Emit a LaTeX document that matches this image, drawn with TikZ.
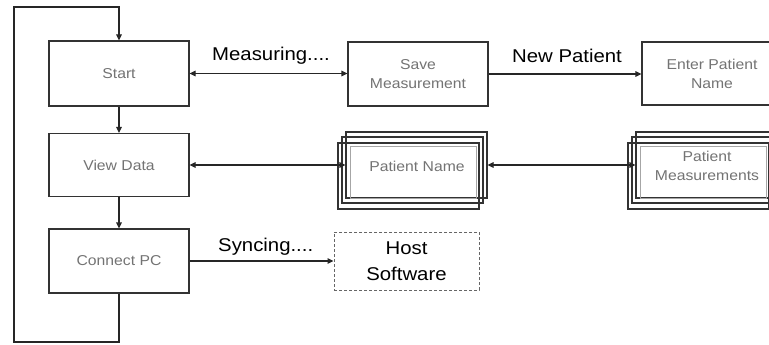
\documentclass[tikz,border=0pt]{standalone}
\usepackage{fontspec}
\setmainfont{Liberation Sans}
\newfontfamily\widesans[FakeStretch=1.1]{Liberation Sans}
\usetikzlibrary{arrows.meta}
\newcommand\boxfont{\widesans\fontsize{14.3}{19}\selectfont}
\newcommand\lblfont{\widesans\fontsize{18.5}{26}\selectfont}
\begin{document}
\begin{tikzpicture}[x=1pt,y=-1pt,
  box/.style={draw=black!80, line width=1.1pt, minimum width=140pt,
    inner sep=0pt, font=\boxfont, text=black!55, align=center},
  stackbox/.style={draw=black!80, line width=1.1pt, minimum width=141pt,
    minimum height=66pt, inner sep=0pt},
  innerbox/.style={draw=black!35, line width=1pt, minimum width=126pt,
    minimum height=52pt, inner sep=0pt},
  boxtext/.style={font=\boxfont, text=black!55, align=center, inner sep=0pt},
  hostbox/.style={draw=black!60, line width=0.9pt, dash pattern=on 3pt off 2pt,
    minimum width=145pt, minimum height=58pt, inner sep=0pt,
    font=\lblfont, align=center},
  lbl/.style={font=\lblfont, inner sep=0pt, anchor=base west},
  tip/.tip={Triangle[length=6pt,width=5.5pt]},
  arr/.style={draw=black!85, line width=1.1pt, arrows={-tip}},
  arr2/.style={draw=black!85, line width=1.1pt, arrows={tip-tip}}]

\fill[white] (0,0) rectangle (769,345);
\useasboundingbox (0,0) rectangle (769,345);
\clip (0,0) rectangle (769,345);

% main column
\node[box, minimum height=65pt] (start) at (119,73.5) {Start};
\node[box, minimum height=63pt] (view) at (119,165) {View Data};
\node[box, minimum height=64pt] (conn) at (119,261) {Connect PC};

% top row
\node[box, minimum height=64pt] (save) at (418,74) {Save\\Measurement};
\node[box, minimum height=63pt] (enter) at (712,73.5) {Enter Patient\\Name};

% stacked record: patient name
\node[stackbox] (pnback) at (416.5,165) {};
\node[stackbox] (pnmid) at (412.5,170) {};
\node[stackbox] (pnfront) at (408.5,176) {};
\node[innerbox] (pninner) at (413,172) {};
\node[boxtext] (pntext) at (417,166) {Patient Name};

% stacked record: patient measurements
\node[stackbox] (pmback) at (706.5,165) {};
\node[stackbox] (pmmid) at (702.5,170) {};
\node[stackbox] (pmfront) at (698.5,176) {};
\node[innerbox] (pminner) at (703,172) {};
\node[boxtext] (pmtext) at (707,166) {Patient\\Measurements};

% external software
\node[hostbox] (host) at (406.5,261) {Host\\Software};

% connector labels
\node[lbl] (measuring) at (212,60.5) {Measuring....};
\node[lbl] (newpat) at (512,62.5) {New Patient};
\node[lbl] (syncing) at (218,251.5) {Syncing....};

% connectors
\draw[arr2] (start.east) -- (start.east -| save.west);
\draw[arr] (save.east) -- (save.east -| enter.west);
\draw[arr2] (view.east) -- (view.east -| pnback.west);
\draw[arr2] (pnback.east) -- (pnback.east -| pmback.west);
\draw[arr] (conn.east) -- (conn.east -| host.west);
\draw[arr] (start.south) -- (view.north);
\draw[arr] (view.south) -- (conn.north);

% return loop
\coordinate (loopbl) at (14,342);
\coordinate (looptl) at (14,7);
\draw[arr] (conn.south) |- (loopbl) -- (looptl) -| (start.north);
\end{tikzpicture}
\end{document}
